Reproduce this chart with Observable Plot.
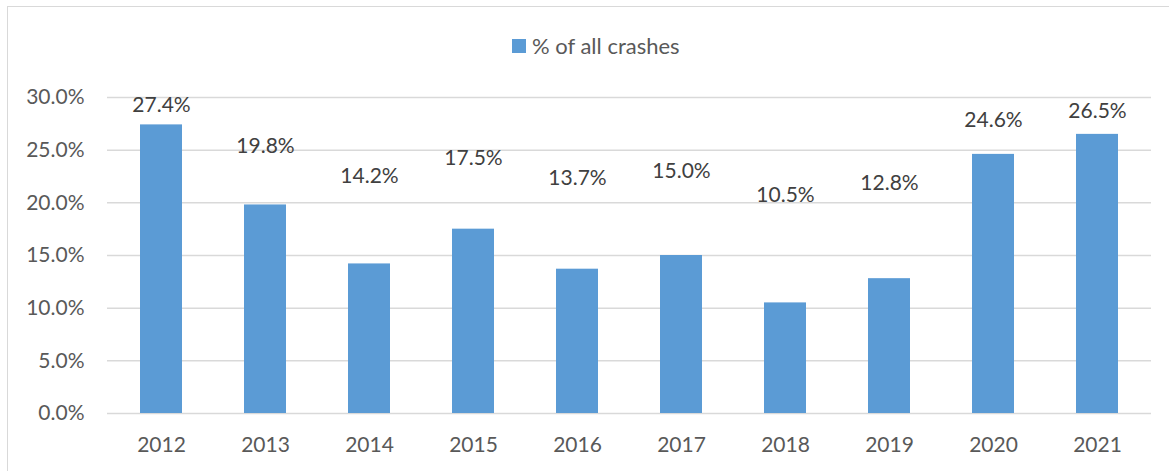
<!DOCTYPE html>
<html>
<head>
<meta charset="utf-8">
<script src="https://cdn.jsdelivr.net/npm/d3@7"></script>
<script src="https://cdn.jsdelivr.net/npm/@observablehq/plot@0.6"></script>
<style>
  html, body { margin: 0; padding: 0; background: #fff; }
  #wrap { position: relative; width: 1169px; height: 471px; overflow: hidden; font-family: Lato, "Liberation Sans", sans-serif; }
  #frame { position: absolute; left: 7px; top: 6px; width: 1180px; height: 480px; border: 1.5px solid #d9d9d9; box-sizing: border-box; }
  #legend { position: absolute; left: 512px; top: 32px; display: flex; align-items: center; gap: 6px; font-size: 22px; color: #595959; }
  #legend .sw { width: 14px; height: 14px; background: #5b9bd5; }
  #chart { position: absolute; left: 0; top: 0; }
</style>
</head>
<body>
<div id="wrap">
  <div id="frame"></div>
  <div id="chart"></div>
  <div id="legend"><span class="sw"></span><span>% of all crashes</span></div>
</div>
<script>
const years = ["2012","2013","2014","2015","2016","2017","2018","2019","2020","2021"];
const pctOfAllCrashes = [27.4, 19.8, 14.2, 17.5, 13.7, 15.0, 10.5, 12.8, 24.6, 26.5];
// vertical position of each data label (in % units)
const labelPos = [29.24, 25.35, 22.55, 24.21, 22.36, 23.02, 20.74, 21.84, 27.82, 28.72];
const yTicks = [0, 5, 10, 15, 20, 25, 30];

const data = years.map((y, i) => ({year: y, value: pctOfAllCrashes[i], lab: labelPos[i]}));

const chart = Plot.plot({
  width: 1169,
  height: 471,
  marginLeft: 107,
  marginRight: 18,
  marginTop: 97,
  marginBottom: 58,
  style: {fontFamily: "Lato, 'Liberation Sans', sans-serif", background: "transparent"},
  x: {domain: years, paddingInner: 0.6, paddingOuter: 0.3, label: null},
  y: {domain: [0, 30], label: null},
  marks: [
    Plot.ruleY(yTicks, {stroke: "#d9d9d9", strokeWidth: 1.5}),
    Plot.barY(data, {x: "year", y: "value", fill: "#5b9bd5"}),
    Plot.text(data, {x: "year", y: "lab", text: d => d.value.toFixed(1) + "%", fill: "#404040", fontSize: 21}),
    Plot.axisY({ticks: yTicks, tickSize: 0, tickPadding: 23, tickFormat: d => d.toFixed(1) + "%", fontSize: 21, color: "#595959", label: null}),
    Plot.axisX({tickSize: 0, tickPadding: 24, fontSize: 21, color: "#595959", label: null})
  ]
});
document.getElementById("chart").appendChild(chart);
</script>
</body>
</html>
